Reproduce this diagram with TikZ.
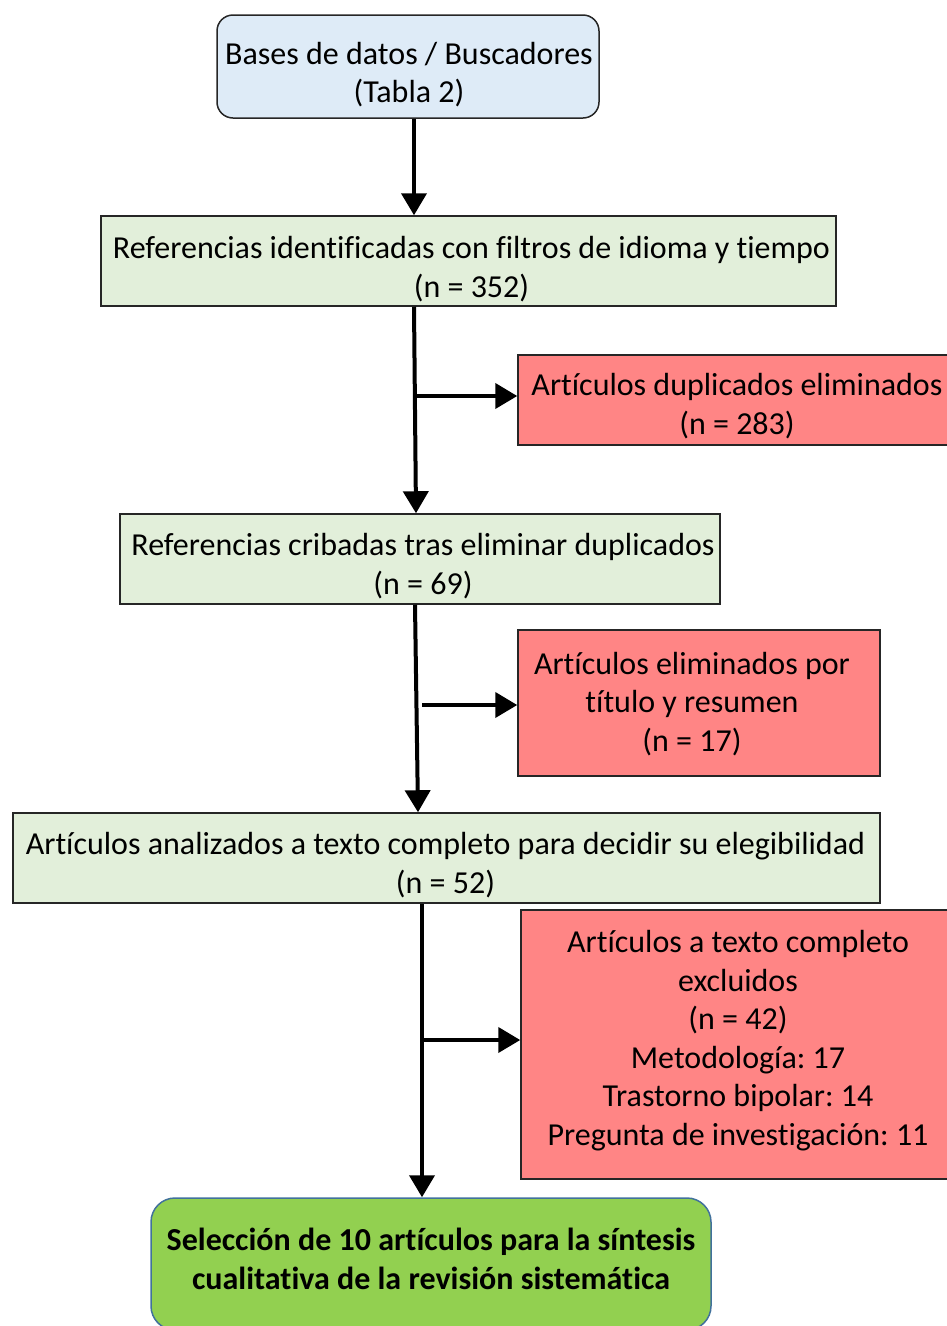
\documentclass[tikz,border=0pt]{standalone}
\usepackage{fontspec}
\setmainfont[Ligatures=NoCommon]{Carlito}
\usetikzlibrary{arrows.meta}
\frenchspacing
\definecolor{bluefill}{HTML}{DEEBF7}
\definecolor{greenfill}{HTML}{E2EFDA}
\definecolor{redfill}{HTML}{FF8585}
\definecolor{finalfill}{HTML}{92D050}
\definecolor{finaldraw}{HTML}{41719C}
\tikzset{
  box/.style={draw=black!85, line width=1.5pt, inner sep=0pt},
  startbox/.style={box, fill=bluefill, rounded corners=16pt},
  greenbox/.style={box, fill=greenfill},
  redbox/.style={box, fill=redfill},
  finalbox/.style={box, draw=finaldraw, fill=finalfill, rounded corners=24pt},
  txt/.style={inner sep=0pt, align=center, font=\fontsize{32}{38.5}\selectfont},
  boldtxt/.style={txt, font=\fontsize{32}{38.5}\selectfont\bfseries},
  arr/.style={line width=4pt, -{Triangle[length=22pt,width=25pt]}},
}
\begin{document}
\begin{tikzpicture}[x=1pt,y=-1pt]
\useasboundingbox (0,0) rectangle (947,1326);
\node[startbox, minimum width=382pt, minimum height=103pt] (db) at (408,66.5) {};
\node[txt] (dbt) at ([yshift=-8pt,xshift=1pt]db.center) {Bases de datos / Buscadores\\(Tabla 2)};
\node[greenbox, minimum width=735pt, minimum height=90pt] (g1) at (468.5,261) {};
\node[txt] (g1t) at ([yshift=-8pt,xshift=3pt]g1.center) {Referencias identificadas con filtros de idioma y tiempo\\(n = 352)};
\node[redbox, minimum width=438pt, minimum height=90pt] (r1) at (737,400) {};
\node[txt] (r1t) at ([yshift=-6pt]r1.center) {Artículos duplicados eliminados\\(n = 283)};
\node[greenbox, minimum width=600pt, minimum height=90pt] (g2) at (420,559) {};
\node[txt] (g2t) at ([yshift=-7pt,xshift=3pt]g2.center) {Referencias cribadas tras eliminar duplicados\\(n = 69)};
\node[redbox, minimum width=362pt, minimum height=146pt] (r2) at (699,703) {};
\node[txt] (r2t) at ([yshift=-1pt,xshift=-7pt]r2.center) {Artículos eliminados por\\título y resumen\\(n = 17)};
\node[greenbox, minimum width=867pt, minimum height=90pt] (g3) at (446.5,858) {};
\node[txt] (g3t) at ([yshift=-7pt,xshift=-1pt]g3.center) {Artículos analizados a texto completo para decidir su elegibilidad\\(n = 52)};
\node[redbox, minimum width=434pt, minimum height=269pt] (r3) at (738,1044.5) {};
\node[txt] (r3t) at ([yshift=4pt]r3.center) {Artículos a texto completo\\excluidos\\(n = 42)\\Metodología: 17\\Trastorno bipolar: 14\\Pregunta de investigación: 11};
\node[finalbox, minimum width=560pt, minimum height=132pt] (fin) at (431,1264) {};
\node[boldtxt] (fint) at ([yshift=5pt]fin.center) {Selección de 10 artículos para la síntesis\\cualitativa de la revisión sistemática};

\coordinate (a1) at (414,118);
\coordinate (b1) at (414,216);
\coordinate (a2) at (414,306);
\coordinate (b2) at (416,514);
\coordinate (s1) at (415,396);
\coordinate (a3) at (415,604);
\coordinate (b3) at (418,813);
\coordinate (s2) at (422,705);
\coordinate (a4) at (422,903);
\coordinate (b4) at (422,1198);
\coordinate (s3) at (422,1040);

\draw[arr] (db.south -| a1) -- (g1.north -| b1);
\draw[arr] (g1.south -| a2) -- (g2.north -| b2);
\draw[arr] (s1) -- (r1.west |- s1);
\draw[arr] (g2.south -| a3) -- (g3.north -| b3);
\draw[arr] (s2) -- (r2.west |- s2);
\draw[arr] (g3.south -| a4) -- (fin.north -| b4);
\draw[arr] (s3) -- (r3.west |- s3);
\end{tikzpicture}
\end{document}
